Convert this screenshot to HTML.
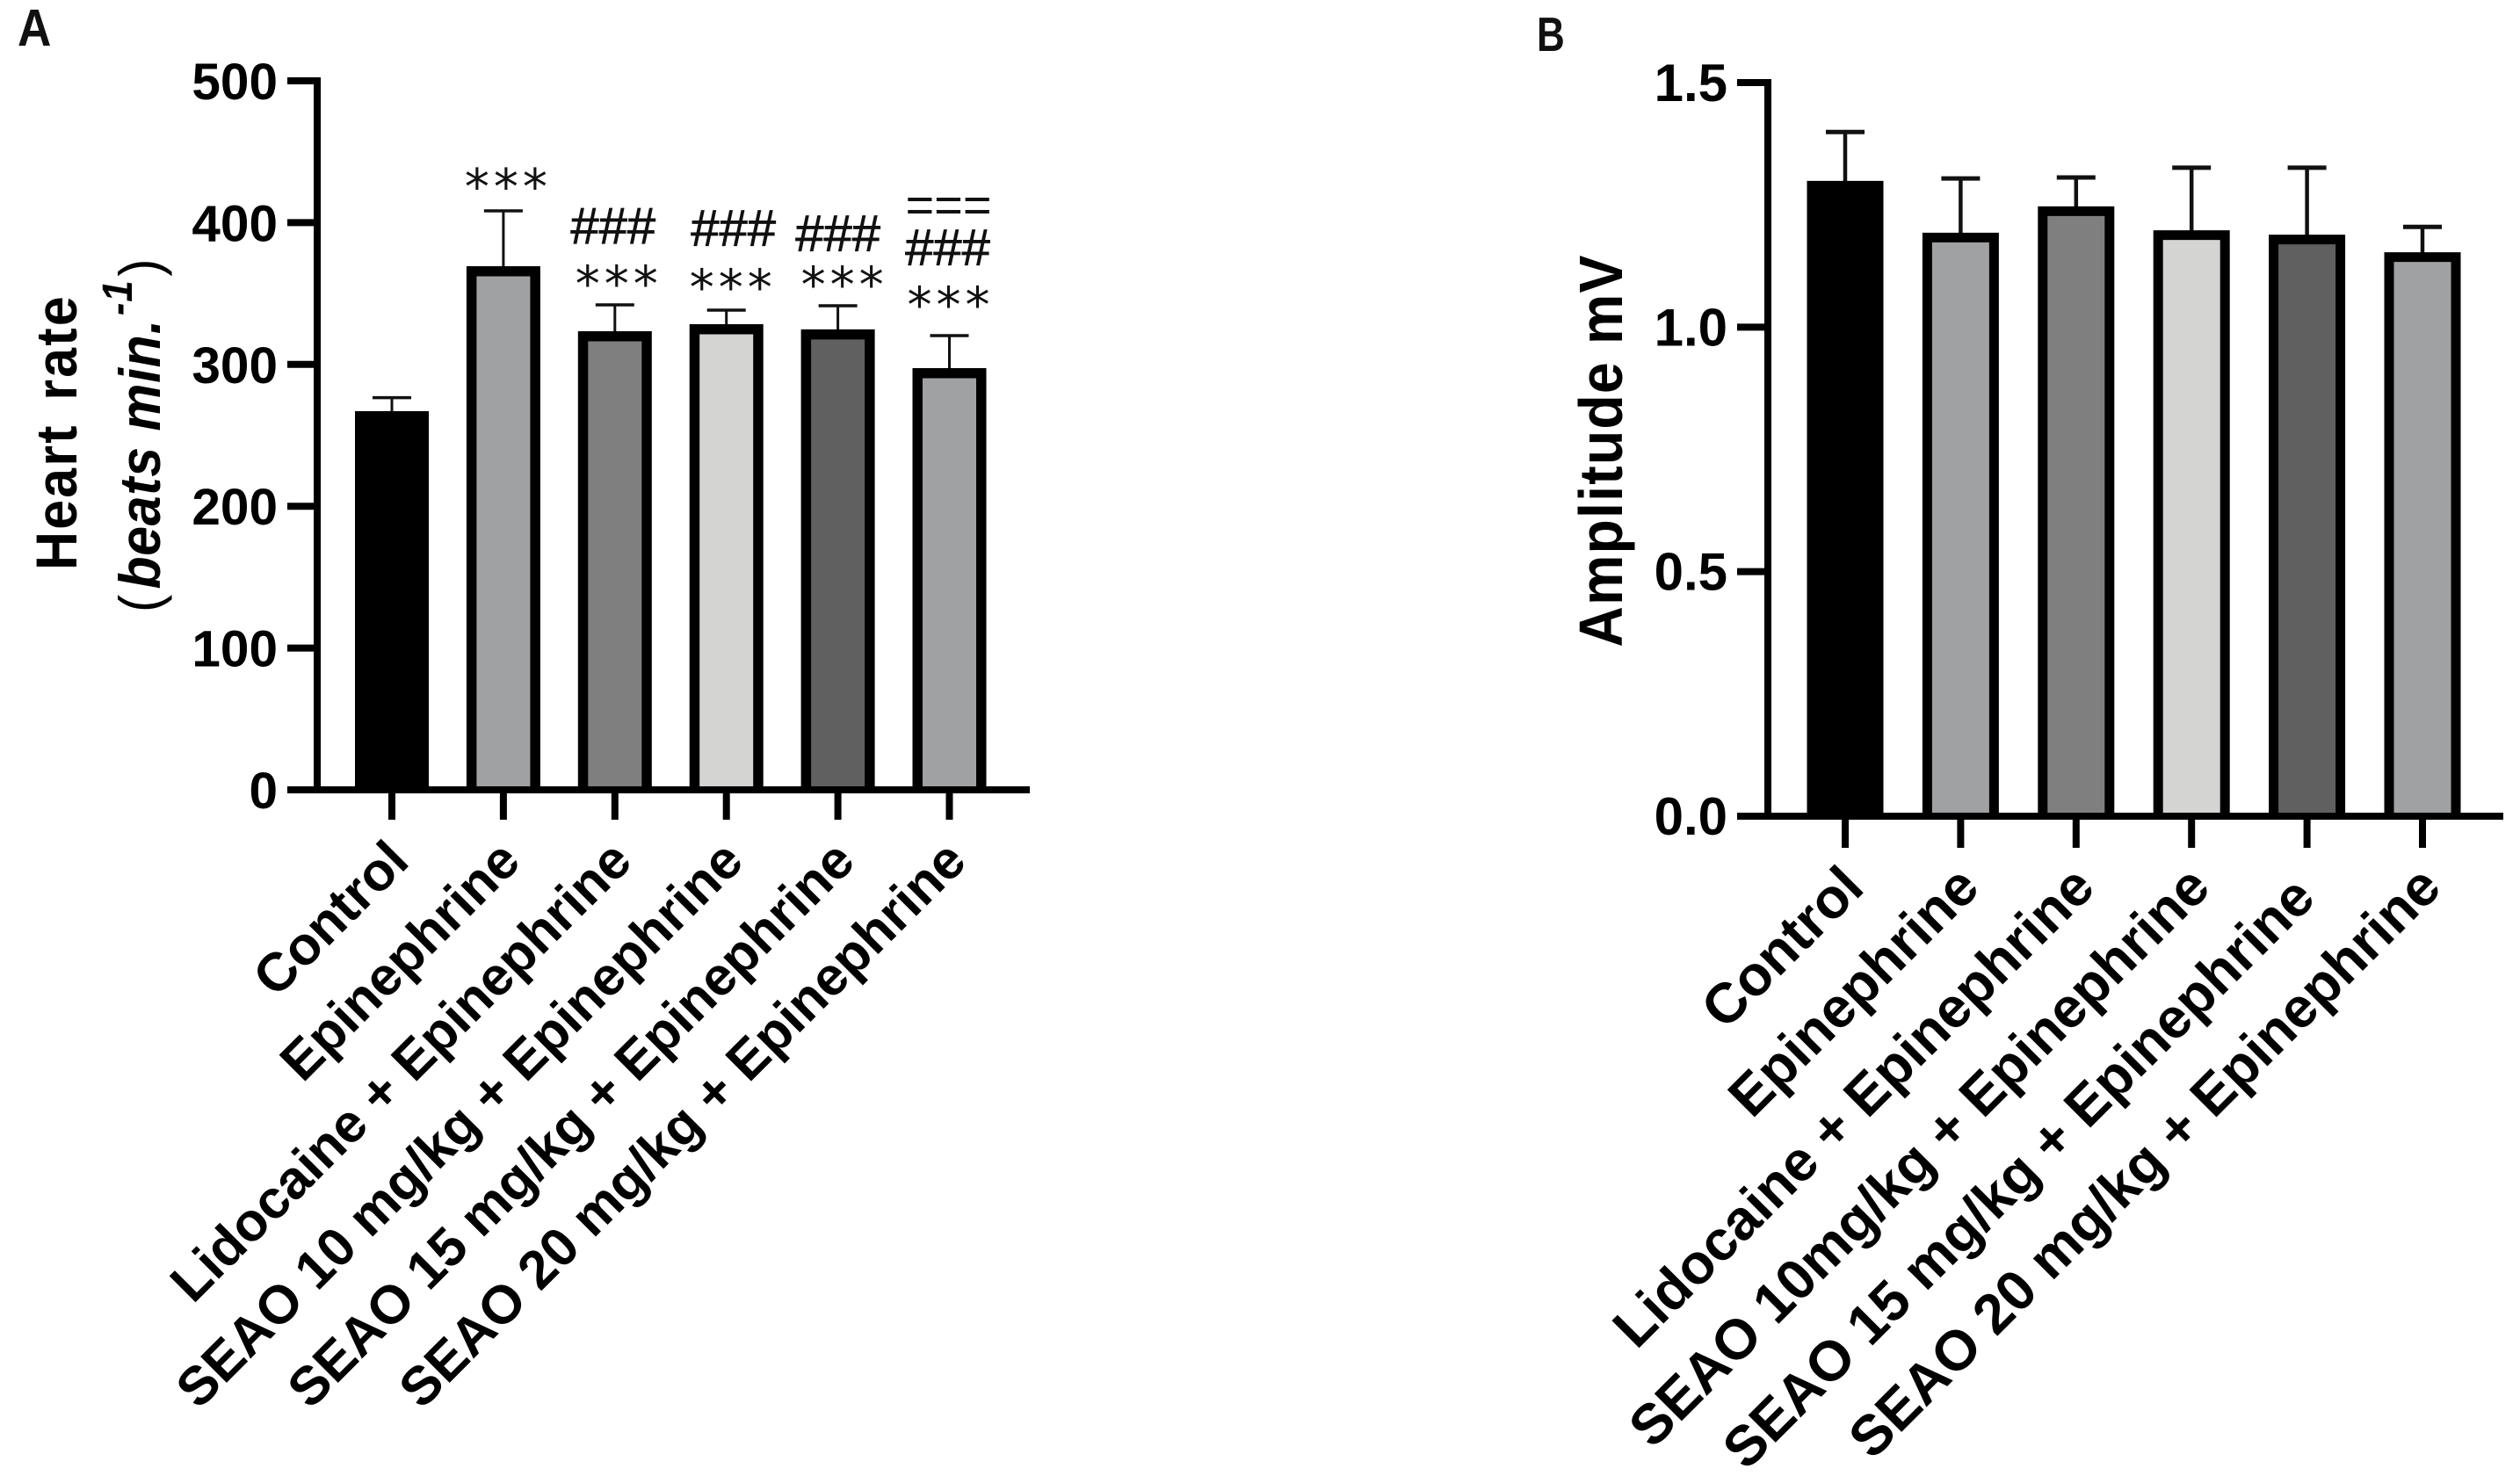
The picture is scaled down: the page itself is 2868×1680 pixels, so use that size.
<!DOCTYPE html>
<html lang="en">
<head>
<meta charset="utf-8">
<title>Heart rate and amplitude bar charts</title>
<style>
html,body{margin:0;padding:0;background:#fff;width:2868px;height:1680px;overflow:hidden}
svg{display:block;font-family:"Liberation Sans",sans-serif}
</style>
</head>
<body>
<svg id="figure" xmlns="http://www.w3.org/2000/svg" width="2868" height="1680" viewBox="0 0 2868 1680">
  <rect width="2868" height="1680" fill="#fff"/>
  <text transform="translate(20,52) scale(0.9,1)" font-size="59" font-weight="700" fill="#111">A</text>
  <text transform="translate(1749,58) scale(0.8,1)" font-size="55" font-weight="700" fill="#111">B</text>
  <text transform="translate(87,492) rotate(-90) scale(0.92,1)" text-anchor="middle" font-size="66" font-weight="700" letter-spacing="2.5" word-spacing="8" fill="#000">Heart rate</text>
  <text transform="translate(182,697) rotate(-90) scale(0.92,1)" font-size="66" font-style="italic" font-weight="700" letter-spacing="0.8" fill="#000"><tspan font-style="normal" font-weight="400">(</tspan><tspan dx="6">beats min.</tspan><tspan dx="4" dy="-32" font-size="48">-1</tspan><tspan dx="4" dy="32" font-style="normal" font-weight="400">)</tspan></text>
  <text transform="translate(1846,513) rotate(-90) scale(0.92,1)" text-anchor="middle" font-size="70" font-weight="700" letter-spacing="1.3" fill="#000">Amplitude mV</text>
</svg>
<script>
// Panel A data
const categoriesA = ["Control", "Epinephrine", "Lidocaine + Epinephrine", "SEAO 10 mg/kg + Epinephrine", "SEAO 15 mg/kg + Epinephrine", "SEAO 20 mg/kg + Epinephrine"];
const meansA = [267, 369.3, 323.4, 328.4, 324.7, 297.4];
const errorTopsA = [276.6, 408.3, 342, 338.3, 341.4, 320.3];
const ticksA = [0, 100, 200, 300, 400, 500];
const tickLabelsA = ["0", "100", "200", "300", "400", "500"];
const annotationsA = [[], ["***"], ["***", "###"], ["***", "###"], ["***", "###"], ["***", "###", "==="]];

// Panel B data
const categoriesB = ["Control", "Epinephrine", "Lidocaine + Epinephrine", "SEAO 10mg/kg + Epinephrine", "SEAO 15 mg/kg + Epinephrine", "SEAO 20 mg/kg + Epinephrine"];
const meansB = [1.299, 1.193, 1.247, 1.198, 1.189, 1.153];
const errorTopsB = [1.399, 1.304, 1.306, 1.326, 1.326, 1.205];
const ticksB = [0, 0.5, 1.0, 1.5];
const tickLabelsB = ["0.0", "0.5", "1.0", "1.5"];

// Shared styling
const barFills = ["#000000", "#a0a1a3", "#7f7f7f", "#d4d5d3", "#5f605f", "#a0a1a3"];

const svg = document.getElementById('figure');
const NS = 'http://www.w3.org/2000/svg';

function make(tag, attrs, parent) {
  const el = document.createElementNS(NS, tag);
  for (const k in attrs) el.setAttribute(k, attrs[k]);
  parent.appendChild(el);
  return el;
}

function drawChart(cfg) {
  const g = make('g', {}, svg);
  
  

  const y = v => cfg.y0 - (v / cfg.maxValue) * (cfg.y0 - cfg.yTop);
  const x = i => cfg.x0 + i * cfg.step;
  const b = cfg.border;

  cfg.means.forEach((m, i) => {
    const cx = x(i);
    const err = make('line', {x1: cx, x2: cx, y1: y(cfg.errors[i]), y2: y(m) + 2, stroke: '#111', 'stroke-width': cfg.errW}, g);
    
    
    const cap = make('line', {x1: cx - 22, x2: cx + 22, y1: y(cfg.errors[i]), y2: y(cfg.errors[i]), stroke: '#111', 'stroke-width': cfg.errW + 0.5}, g);
    
    
    const left = cx - cfg.barWidth / 2 + b / 2;
    const right = cx + cfg.barWidth / 2 - b / 2;
    const top = y(m) + b / 2;
    const bar = make('path', {
      d: 'M' + left + ' ' + cfg.y0 + ' V' + top + ' H' + right + ' V' + cfg.y0,
      fill: barFills[i], stroke: '#000', 'stroke-width': b
    }, g);
    
    
  });

  const yAxis = make('line', {x1: cfg.axisX, x2: cfg.axisX, y1: cfg.yTop - cfg.axisW / 2, y2: cfg.y0 + cfg.axisW / 2, stroke: '#000', 'stroke-width': cfg.axisW}, g);
  
  
  const xAxis = make('line', {x1: cfg.axisX, x2: cfg.xEnd, y1: cfg.y0, y2: cfg.y0, stroke: '#000', 'stroke-width': cfg.axisW}, g);
  
  

  cfg.ticks.forEach((t, i) => {
    const ty = y(t);
    const tick = make('line', {x1: cfg.axisX - cfg.tickLeft, x2: cfg.axisX, y1: ty, y2: ty, stroke: '#000', 'stroke-width': cfg.axisW}, g);
    
    
    const lab = make('text', {x: cfg.axisX - cfg.tickLeft - 11, y: ty + cfg.tickDy, 'text-anchor': 'end', 'font-size': cfg.tickFont, 'font-weight': 700, fill: '#000'}, g);
    lab.textContent = cfg.tickLabels[i];
    
    
  });

  cfg.categories.forEach((c, i) => {
    const cx = x(i);
    const tick = make('line', {x1: cx, x2: cx, y1: cfg.y0, y2: cfg.y0 + cfg.tickDown, stroke: '#000', 'stroke-width': cfg.axisW}, g);
    
    
    const nudge = (cfg.labelNudge && cfg.labelNudge[i]) || {dx: 0, dy: 0};
    const lx = cx + cfg.labelDx + nudge.dx, ly = cfg.y0 + cfg.labelDy + nudge.dy;
    const lab = make('text', {transform: 'translate(' + lx + ',' + ly + ') rotate(-45)', 'text-anchor': 'end', 'font-size': cfg.labelFont, 'font-weight': 700, fill: '#000'}, g);
    lab.textContent = c;
    
    
  });

  (cfg.annotations || []).forEach((stack, i) => {
    stack.forEach((s, j) => {
      const isStar = s === '***';
      const isHash = s === '###';
      const place = cfg.annotationPlacement[i][j];
      const an = make('text', {
        x: x(i) + place.shift + (isStar ? 2.5 : 0),
        y: y(cfg.errors[i]) - place.lift + (isStar ? 8 : 0),
        'text-anchor': 'middle',
        'dominant-baseline': 'central',
        'font-size': isStar ? 56 : (isHash ? 58 : 56),
        'font-family': isStar ? '"DejaVu Sans", sans-serif' : '"Liberation Sans", sans-serif',
        'letter-spacing': isStar ? 5 : 0,
        stroke: isHash ? '#111' : 'none',
        'stroke-width': isHash ? 0.8 : 0,
        fill: '#111'
      }, g);
      an.textContent = s;
      
      
    });
  });
}

drawChart({
  id: 'panel-a', categories: categoriesA, means: meansA, errors: errorTopsA,
  ticks: ticksA, tickLabels: tickLabelsA, annotations: annotationsA,
  annotationPlacement: [
    [],
    [{lift: 34.5, shift: 3}],
    [{lift: 31, shift: 2}, {lift: 89.5, shift: -2}],
    [{lift: 33, shift: 5}, {lift: 93, shift: 8}],
    [{lift: 31, shift: 5}, {lift: 82, shift: 0}],
    [{lift: 42, shift: -1}, {lift: 100, shift: -2}, {lift: 149, shift: -1}]
  ],
  maxValue: 500, y0: 899, yTop: 92, axisX: 361, xEnd: 1172, x0: 446, step: 126.9,
  barWidth: 84, border: 11.5, axisW: 8, errW: 3, tickLeft: 34, tickDown: 34, tickFont: 58.5, tickDy: 21,
  labelFont: 61.3, labelDx: 22, labelDy: 84
});

drawChart({
  id: 'panel-b', categories: categoriesB, means: meansB, errors: errorTopsB,
  ticks: ticksB, tickLabels: tickLabelsB,
  maxValue: 1.5, y0: 929, yTop: 94, axisX: 2012, xEnd: 2849, x0: 2100, step: 131.4,
  barWidth: 87, border: 11, axisW: 8, errW: 4.5, tickLeft: 35, tickDown: 36, tickFont: 60, tickDy: 21,
  labelFont: 64, labelDx: 24, labelDy: 84,
  labelNudge: {4: {dx: -12, dy: 12}}
});
</script>
</body>
</html>
